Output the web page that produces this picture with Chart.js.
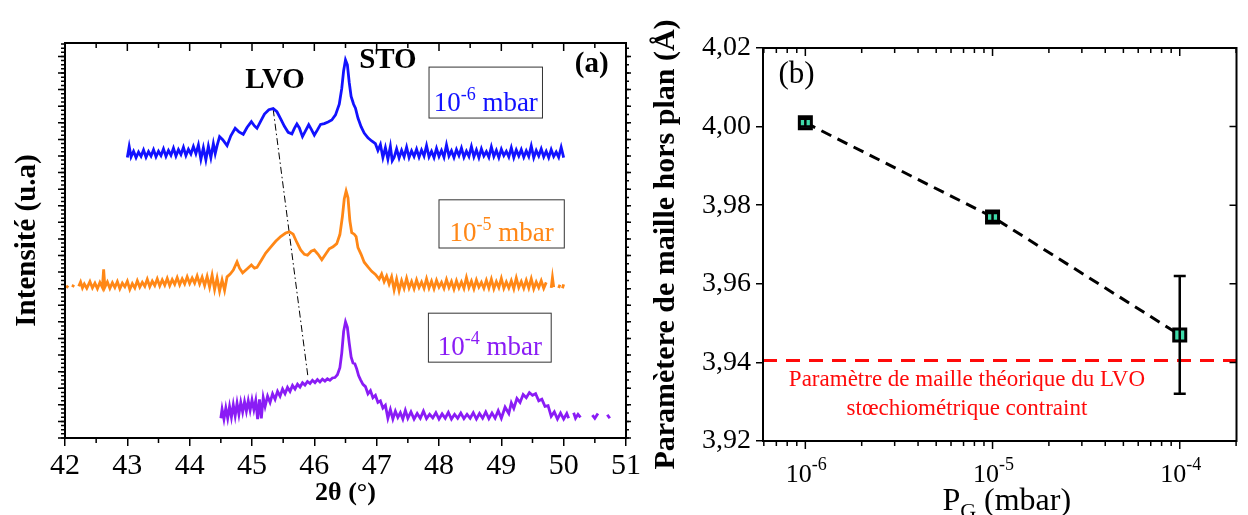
<!DOCTYPE html>
<html>
<head>
<meta charset="utf-8">
<script src="https://cdn.jsdelivr.net/npm/chart.js@4.4.1/dist/chart.umd.min.js"></script>
<style>
  html, body { margin: 0; padding: 0; background: #fff; }
  #wrap { position: relative; width: 1248px; height: 515px; overflow: hidden; }
  #left { position: absolute; left: 0; top: 0; }
  #right { position: absolute; left: 640px; top: 0; }
</style>
</head>
<body>
<div id="wrap">
  <canvas id="left" width="660" height="515"></canvas>
  <canvas id="right" width="608" height="515"></canvas>
</div>
<script>
// --- fonts & colours ---
const SERIF = "'Liberation Serif', 'Times New Roman', serif";
const BLUE = '#1212ff';
const ORANGE = '#ff8716';
const PURPLE = '#8a1cf5';
const GREEN = '#3fdcaa';
const RED = '#ff0a0a';

// --- panel (a): XRD scans, [2theta (deg), intensity (a.u., offset)] ---
const scan1e6 = [
  [43.00,71.0],[43.03,73.8],[43.06,71.2],[43.10,72.6],[43.14,71.0],[43.18,72.4],[43.22,71.3],[43.26,72.9],
  [43.30,71.1],[43.34,72.5],[43.38,71.4],[43.42,73.0],[43.46,71.2],[43.50,72.6],[43.54,71.5],[43.58,73.2],
  [43.62,71.3],[43.66,72.8],[43.70,71.6],[43.74,73.4],[43.78,71.4],[43.82,73.0],[43.86,71.8],[43.90,73.6],
  [43.94,71.5],[43.98,73.1],[44.02,71.9],[44.06,73.8],[44.10,72.0],[44.14,74.2],[44.18,70.6],[44.22,73.5],
  [44.26,70.4],[44.30,73.9],[44.34,71.0],[44.38,74.5],[44.41,72.0],[44.44,74.0],[44.48,76.3],[44.53,75.5],
  [44.60,74.0],[44.66,76.5],[44.73,78.4],[44.79,77.5],[44.86,76.9],[44.92,78.6],[44.99,80.1],[45.04,79.0],
  [45.08,78.4],[45.14,80.2],[45.20,82.0],[45.27,83.1],[45.34,83.4],[45.40,82.6],[45.46,80.8],[45.52,78.9],
  [45.58,77.4],[45.64,77.0],[45.68,78.4],[45.72,79.5],[45.76,78.5],[45.81,76.3],[45.86,77.8],[45.91,79.3],
  [45.95,78.2],[46.00,76.7],[46.05,78.0],[46.10,79.4],[46.16,79.6],[46.22,80.0],[46.28,80.5],[46.34,81.8],
  [46.40,84.5],[46.44,88.5],[46.47,93.0],[46.50,95.7],[46.53,94.5],[46.56,90.0],[46.59,86.5],[46.63,84.5],
  [46.66,83.5],[46.70,81.0],[46.75,78.8],[46.80,77.2],[46.86,76.0],[46.92,75.2],[46.98,74.5],[47.02,72.8],
  [47.06,74.3],[47.10,71.0],[47.14,73.5],[47.18,70.6],[47.22,73.8],[47.25,70.2],[47.28,71.0],[47.32,73.2],
  [47.36,70.9],[47.40,72.8],[47.44,71.2],[47.48,73.6],[47.52,71.0],[47.56,72.7],[47.60,71.3],[47.64,73.1],
  [47.68,71.1],[47.72,72.9],[47.76,71.4],[47.80,74.0],[47.84,71.2],[47.88,72.6],[47.92,71.0],[47.96,73.3],
  [48.00,71.3],[48.04,72.8],[48.08,71.1],[48.12,74.2],[48.16,71.4],[48.20,72.7],[48.24,71.0],[48.28,73.0],
  [48.32,71.5],[48.36,73.4],[48.40,71.1],[48.44,72.6],[48.48,71.3],[48.52,73.8],[48.56,71.2],[48.60,72.9],
  [48.64,71.0],[48.68,73.2],[48.72,71.4],[48.76,72.5],[48.80,71.1],[48.84,73.7],[48.88,71.3],[48.92,72.8],
  [48.96,71.0],[49.00,73.1],[49.04,71.5],[49.08,72.6],[49.12,71.2],[49.16,73.5],[49.20,71.0],[49.24,72.9],
  [49.28,71.4],[49.32,73.0],[49.36,71.1],[49.40,72.7],[49.44,71.3],[49.48,73.9],[49.52,71.0],[49.56,72.8],
  [49.60,71.4],[49.64,73.2],[49.68,71.2],[49.72,72.6],[49.76,71.0],[49.80,73.0],[49.84,71.3],[49.88,72.4],
  [49.92,71.1],[49.96,73.6],[50.00,71.0]
];

const scan1e5 = [
  [42.02,38.0],[42.05,38.6],[42.07,null],[42.12,38.2],[42.14,38.8],[42.17,null],[42.22,38.4],[42.25,39.5],
  [42.28,38.0],[42.31,39.0],[42.35,37.9],[42.40,39.6],[42.44,38.0],[42.48,39.2],[42.52,37.8],[42.56,39.4],
  [42.60,38.1],[42.62,42.7],[42.64,38.2],[42.68,39.5],[42.72,37.9],[42.76,39.3],[42.80,38.1],[42.84,39.6],
  [42.88,37.8],[42.92,39.2],[42.96,38.3],[43.00,39.7],[43.04,37.6],[43.08,39.1],[43.12,38.0],[43.16,39.8],
  [43.20,38.2],[43.24,39.4],[43.28,38.4],[43.32,40.2],[43.36,38.3],[43.40,39.7],[43.44,38.6],[43.48,40.3],
  [43.52,38.5],[43.56,40.0],[43.60,38.7],[43.64,40.4],[43.68,38.6],[43.72,40.1],[43.76,38.9],[43.80,40.6],
  [43.84,38.8],[43.88,40.3],[43.92,39.0],[43.96,40.8],[44.00,39.1],[44.04,40.5],[44.08,39.2],[44.12,41.0],
  [44.16,39.0],[44.20,40.7],[44.24,38.6],[44.28,40.9],[44.32,38.2],[44.36,41.2],[44.40,37.6],[44.44,40.5],
  [44.48,37.2],[44.52,40.0],[44.56,37.4],[44.60,40.8],[44.65,41.5],[44.70,42.5],[44.76,44.6],[44.80,43.0],
  [44.85,41.8],[44.92,42.8],[44.99,43.8],[45.04,43.0],[45.08,43.2],[45.15,45.0],[45.22,46.8],[45.30,48.3],
  [45.38,49.8],[45.46,51.0],[45.54,51.9],[45.60,52.2],[45.66,51.6],[45.72,49.5],[45.78,47.6],[45.84,46.5],
  [45.89,46.3],[45.95,47.3],[46.00,47.6],[46.06,46.5],[46.12,45.1],[46.18,46.5],[46.24,47.9],[46.30,48.4],
  [46.36,49.2],[46.41,51.5],[46.45,56.0],[46.48,60.5],[46.51,62.5],[46.54,60.8],[46.57,55.0],[46.60,52.0],
  [46.64,51.6],[46.67,51.0],[46.70,48.2],[46.75,46.5],[46.80,44.5],[46.86,43.3],[46.92,42.2],[46.98,41.4],
  [47.04,40.2],[47.08,41.5],[47.12,39.6],[47.16,41.0],[47.20,39.0],[47.24,40.8],[47.28,37.5],[47.32,40.2],
  [47.36,37.3],[47.40,39.8],[47.44,37.9],[47.48,40.4],[47.52,38.0],[47.56,39.6],[47.60,37.8],[47.64,40.0],
  [47.68,38.1],[47.72,39.5],[47.76,37.9],[47.80,40.3],[47.84,38.0],[47.88,39.7],[47.92,37.8],[47.96,39.9],
  [48.00,38.2],[48.04,39.4],[48.08,37.9],[48.12,40.1],[48.16,38.1],[48.20,39.6],[48.24,37.7],[48.28,39.8],
  [48.32,38.0],[48.36,39.5],[48.40,37.9],[48.44,40.6],[48.48,38.1],[48.52,39.7],[48.56,37.8],[48.60,40.0],
  [48.64,38.2],[48.68,39.4],[48.72,37.9],[48.76,39.9],[48.80,38.0],[48.84,40.2],[48.88,37.8],[48.92,39.6],
  [48.96,38.1],[49.00,40.4],[49.04,37.9],[49.08,39.5],[49.12,38.0],[49.16,39.8],[49.20,37.8],[49.24,40.5],
  [49.28,38.1],[49.32,39.6],[49.36,37.9],[49.40,39.9],[49.44,38.0],[49.48,40.3],[49.52,37.8],[49.56,39.5],
  [49.60,38.1],[49.64,39.8],[49.68,37.9],[49.72,39.4],[49.75,null],[49.80,38.0],[49.82,40.6],[49.84,38.2],
  [49.87,null],[49.92,38.0],[49.94,38.8],[49.96,null],[49.98,37.9],[50.00,38.9]
];

const scan1e4 = [
  [44.50,5.0],[44.52,7.3],[44.55,4.8],[44.58,7.6],[44.61,5.0],[44.64,8.0],[44.67,5.3],[44.70,8.4],
  [44.73,5.6],[44.76,8.8],[44.79,6.0],[44.82,9.0],[44.85,6.6],[44.88,9.2],[44.91,6.8],[44.94,9.4],
  [44.97,7.0],[45.00,9.6],[45.03,7.2],[45.06,9.5],[45.09,4.8],[45.12,9.8],[45.15,5.0],[45.18,10.2],
  [45.21,8.0],[45.25,10.6],[45.29,9.0],[45.33,11.2],[45.37,9.8],[45.41,11.8],[45.45,10.6],[45.49,12.4],
  [45.53,11.2],[45.57,12.8],[45.61,11.8],[45.65,13.3],[45.69,12.4],[45.73,13.6],[45.77,12.9],[45.81,14.0],
  [45.85,13.4],[45.89,14.3],[45.93,13.8],[45.97,14.6],[46.01,14.0],[46.05,14.8],[46.09,14.2],[46.13,14.9],
  [46.17,14.4],[46.21,15.0],[46.25,14.6],[46.29,15.2],[46.33,15.3],[46.37,16.0],[46.41,17.8],[46.44,21.5],
  [46.47,27.0],[46.50,29.4],[46.53,28.0],[46.56,24.0],[46.59,20.5],[46.62,19.0],[46.65,18.8],[46.68,17.5],
  [46.71,15.8],[46.74,14.8],[46.78,13.6],[46.82,13.0],[46.86,11.2],[46.90,12.0],[46.94,10.2],[46.98,10.8],
  [47.02,9.0],[47.06,9.4],[47.10,7.6],[47.14,8.3],[47.18,5.0],[47.22,7.2],[47.26,4.8],[47.30,6.8],
  [47.34,5.2],[47.38,6.4],[47.42,4.8],[47.46,7.0],[47.50,5.0],[47.55,6.6],[47.60,4.8],[47.65,6.2],
  [47.70,5.0],[47.75,6.8],[47.80,4.9],[47.85,6.0],[47.90,5.1],[47.95,6.4],[48.00,4.8],[48.05,6.1],
  [48.10,5.0],[48.15,6.5],[48.20,4.8],[48.25,6.0],[48.30,5.0],[48.35,6.3],[48.40,4.9],[48.45,6.0],
  [48.50,5.0],[48.55,6.4],[48.60,4.8],[48.65,6.2],[48.70,5.0],[48.75,6.6],[48.80,4.9],[48.85,6.3],
  [48.90,5.0],[48.95,6.9],[49.00,5.0],[49.06,7.8],[49.12,6.2],[49.16,8.9],[49.20,7.5],[49.25,10.0],
  [49.30,9.0],[49.35,11.0],[49.40,10.2],[49.45,11.5],[49.50,10.8],[49.55,11.2],[49.60,9.4],[49.65,9.8],
  [49.70,8.0],[49.75,8.2],[49.80,5.5],[49.85,6.6],[49.90,4.8],[49.95,6.3],[50.00,4.8],[50.05,6.2],
  [50.08,5.0],[50.11,null],[50.16,6.4],[50.19,5.0],[50.23,6.0],[50.27,5.2],[50.30,null],[50.46,5.8],
  [50.50,5.0],[50.55,6.2],[50.58,null],[50.70,5.9],[50.74,5.0]
];

// guide line following the LVO peak shift
const lvoShift = [[45.34, 83.2], [45.90, 15.2]];

// --- panel (b): out-of-plane lattice parameter vs growth pressure ---
const pressures = [1e-6, 1e-5, 1e-4];          // mbar
const latticeParam = [4.001, 3.977, 3.947];     // Å
const latticeErr = [0.001, 0.001, 0.015];       // Å
const theoryParam = 3.9405;                     // Å, strained stoichiometric LVO
const pressureTicks = [1e-6, 1e-5, 1e-4];
const pressureExps = ['-6', '-5', '-4'];

// --- helpers ---
function toXY(arr) { return arr.map(([x, y]) => ({ x, y })); }
function range(a, b, step) {
  const out = [];
  for (let v = a; v <= b + 1e-9; v += step) out.push(+v.toFixed(6));
  return out;
}

// draw a run of text pieces (for super/subscripts) centred on cx
function drawRuns(ctx, runs, cx, baseY, color) {
  let w = 0;
  runs.forEach(r => { ctx.font = r.font; r.w = ctx.measureText(r.t).width; w += r.w; });
  let x = cx - w / 2;
  ctx.fillStyle = color;
  ctx.textAlign = 'left';
  ctx.textBaseline = 'alphabetic';
  runs.forEach(r => { ctx.font = r.font; ctx.fillText(r.t, x, baseY + (r.dy || 0)); x += r.w; });
  return w;
}

// tick marks along one side of the chart area (dir 1 = outward, -1 = inward)
function marks(ctx, scale, values, side, len, dir) {
  const a = scale.chart.chartArea;
  ctx.beginPath();
  values.forEach(v => {
    const p = scale.getPixelForValue(v);
    if (side === 'bottom') { ctx.moveTo(p, a.bottom); ctx.lineTo(p, a.bottom + dir * len); }
    if (side === 'top') { ctx.moveTo(p, a.top); ctx.lineTo(p, a.top - dir * len); }
    if (side === 'left') { ctx.moveTo(a.left, p); ctx.lineTo(a.left - dir * len, p); }
    if (side === 'right') { ctx.moveTo(a.right, p); ctx.lineTo(a.right + dir * len, p); }
  });
  ctx.stroke();
}

function frame(ctx, a) {
  ctx.strokeStyle = '#000';
  ctx.lineWidth = 2;
  ctx.strokeRect(a.left, a.top, a.right - a.left, a.bottom - a.top);
}

// --- panel (a) decorations ---
const leftDecor = {
  id: 'leftDecor',
  afterDraw(chart) {
    const { ctx, chartArea: a } = chart;
    const xs = chart.scales.x, ys = chart.scales.y;
    ctx.save();
    frame(ctx, a);
    ctx.lineWidth = 1.5;
    marks(ctx, xs, range(42.5, 50.5, 1), 'bottom', 5, 1);
    marks(ctx, xs, range(42, 51, 1), 'top', 8, -1);
    marks(ctx, xs, range(42.5, 50.5, 1), 'top', 5, -1);
    marks(ctx, ys, range(0, 100, 4.2), 'left', 7, 1);
    marks(ctx, ys, range(0, 100, 1.05), 'left', 4, 1);
    marks(ctx, ys, range(0, 100, 4.2), 'right', 5, 1);
    marks(ctx, ys, range(0, 100, 2.1), 'right', 3, 1);

    // peak names and panel letter
    ctx.fillStyle = '#000';
    ctx.textAlign = 'center';
    ctx.textBaseline = 'middle';
    ctx.font = `bold 29px ${SERIF}`;
    ctx.fillText('LVO', xs.getPixelForValue(45.37), ys.getPixelForValue(90.4));
    ctx.fillText('STO', xs.getPixelForValue(47.18), ys.getPixelForValue(95.6));
    ctx.fillText('(a)', xs.getPixelForValue(50.45), ys.getPixelForValue(94.6));

    // pressure boxes
    const boxes = [
      { exp: '-6', color: BLUE, x0: 47.84, x1: 49.66, y0: 81.0, y1: 93.9 },
      { exp: '-5', color: ORANGE, x0: 48.00, x1: 50.01, y0: 48.1, y1: 60.3 },
      { exp: '-4', color: PURPLE, x0: 47.83, x1: 49.80, y0: 19.2, y1: 31.6 }
    ];
    boxes.forEach(b => {
      const l = xs.getPixelForValue(b.x0), r = xs.getPixelForValue(b.x1);
      const t = ys.getPixelForValue(b.y1), btm = ys.getPixelForValue(b.y0);
      ctx.strokeStyle = '#333';
      ctx.lineWidth = 1;
      ctx.strokeRect(l, t, r - l, btm - t);
      drawRuns(ctx, [
        { t: '10', font: `27px ${SERIF}` },
        { t: b.exp, font: `18px ${SERIF}`, dy: -11 },
        { t: ' mbar', font: `27px ${SERIF}` }
      ], (l + r) / 2, btm - 7, b.color);
    });
    ctx.restore();
  }
};

function scanDataset(arr, color) {
  return { data: toXY(arr), borderColor: color, borderWidth: 2.8, pointRadius: 0, tension: 0, spanGaps: false, fill: false };
}

new Chart(document.getElementById('left'), {
  type: 'line',
  data: {
    datasets: [
      scanDataset(scan1e6, BLUE),
      scanDataset(scan1e5, ORANGE),
      scanDataset(scan1e4, PURPLE),
      { data: toXY(lvoShift), borderColor: '#000', borderWidth: 1, borderDash: [7, 3, 1.5, 3], pointRadius: 0 }
    ]
  },
  options: {
    responsive: false,
    animation: false,
    events: [],
    layout: { padding: { top: 43, right: 34, left: 0, bottom: 0 } },
    plugins: { legend: { display: false }, tooltip: { enabled: false } },
    scales: {
      x: {
        type: 'linear', min: 42, max: 51,
        ticks: { stepSize: 1, autoSkip: false, maxRotation: 0, color: '#000', padding: 2, font: { family: SERIF, size: 30 } },
        grid: { drawOnChartArea: false, tickLength: 8, color: '#000', lineWidth: 1.5 },
        border: { color: '#000', width: 2 },
        title: { display: true, text: '2θ (°)', color: '#000', font: { family: SERIF, size: 26, weight: 'bold' }, padding: { top: 0, bottom: 6 } },
        afterFit: s => { s.height = 77; }
      },
      y: {
        min: 0, max: 100,
        ticks: { display: false },
        grid: { display: false },
        border: { color: '#000', width: 2 },
        title: { display: true, text: 'Intensité (u.a)', color: '#000', font: { family: SERIF, size: 29, weight: 'bold' }, padding: { top: 10, bottom: 0 } },
        afterFit: s => { s.width = 65; }
      }
    }
  },
  plugins: [leftDecor]
});

// --- panel (b) decorations ---
const rightDecor = {
  id: 'rightDecor',
  beforeDatasetsDraw(chart) {
    const { ctx, chartArea: a } = chart;
    const ys = chart.scales.y;
    const y = ys.getPixelForValue(theoryParam);
    ctx.save();
    ctx.strokeStyle = RED;
    ctx.lineWidth = 3;
    ctx.setLineDash([14, 9]);
    ctx.beginPath();
    ctx.moveTo(a.left, y);
    ctx.lineTo(a.right, y);
    ctx.stroke();
    ctx.restore();
  },
  afterDatasetsDraw(chart) {
    const { ctx } = chart;
    const xs = chart.scales.x, ys = chart.scales.y;
    ctx.save();
    ctx.strokeStyle = '#000';
    ctx.lineWidth = 2.5;
    pressures.forEach((p, i) => {
      const x = xs.getPixelForValue(p);
      const yt = ys.getPixelForValue(latticeParam[i] + latticeErr[i]);
      const yb = ys.getPixelForValue(latticeParam[i] - latticeErr[i]);
      ctx.beginPath();
      ctx.moveTo(x, yt); ctx.lineTo(x, yb);
      ctx.moveTo(x - 6, yt); ctx.lineTo(x + 6, yt);
      ctx.moveTo(x - 6, yb); ctx.lineTo(x + 6, yb);
      ctx.stroke();
    });
    ctx.restore();
  },
  afterDraw(chart) {
    const { ctx, chartArea: a } = chart;
    const xs = chart.scales.x, ys = chart.scales.y;
    ctx.save();
    frame(ctx, a);
    ctx.lineWidth = 1.5;
    const minor = [];
    [1e-7, 1e-6, 1e-5, 1e-4].forEach(d => { for (let m = 2; m <= 9; m++) minor.push(d * m); });
    const minorIn = minor.filter(v => v >= xs.min && v <= xs.max);
    marks(ctx, xs, pressureTicks, 'bottom', 8, 1);
    marks(ctx, xs, minorIn, 'bottom', 5, 1);
    marks(ctx, xs, pressureTicks, 'top', 8, -1);
    marks(ctx, xs, minorIn, 'top', 5, -1);
    marks(ctx, ys, range(3.92, 4.02, 0.02), 'right', 7, -1);

    // x tick labels with superscript exponents
    pressureTicks.forEach((p, i) => {
      drawRuns(ctx, [
        { t: '10', font: `26px ${SERIF}` },
        { t: pressureExps[i], font: `18px ${SERIF}`, dy: -12 }
      ], xs.getPixelForValue(p) + 1, a.bottom + 41, '#000');
    });
    // x title P_G (mbar)
    drawRuns(ctx, [
      { t: 'P', font: `32px ${SERIF}` },
      { t: 'G', font: `22px ${SERIF}`, dy: 8 },
      { t: ' (mbar)', font: `32px ${SERIF}` }
    ], (a.left + a.right) / 2 + 7, a.bottom + 69, '#000');

    // panel letter
    ctx.fillStyle = '#000';
    ctx.textAlign = 'center';
    ctx.textBaseline = 'middle';
    ctx.font = `31px ${SERIF}`;
    ctx.fillText('(b)', xs.getPixelForValue(8.97e-7), ys.getPixelForValue(4.0131));

    // theoretical value caption
    ctx.fillStyle = RED;
    ctx.font = `23px ${SERIF}`;
    const cx = xs.getPixelForValue(7.3e-6);
    ctx.fillText('Paramètre de maille théorique du LVO', cx, ys.getPixelForValue(3.9355));
    ctx.fillText('stœchiométrique contraint', cx, ys.getPixelForValue(3.9281));
    ctx.restore();
  }
};

new Chart(document.getElementById('right'), {
  type: 'line',
  data: {
    datasets: [{
      data: pressures.map((p, i) => ({ x: p, y: latticeParam[i] })),
      borderColor: '#000',
      borderWidth: 3,
      borderDash: [11, 7],
      tension: 0,
      pointStyle: 'rect',
      pointRadius: 8.5,
      pointBackgroundColor: GREEN,
      pointBorderColor: '#000',
      pointBorderWidth: 3
    }]
  },
  options: {
    responsive: false,
    animation: false,
    events: [],
    layout: { padding: { top: 48, right: 3, left: 0, bottom: 0 } },
    plugins: { legend: { display: false }, tooltip: { enabled: false } },
    scales: {
      x: {
        type: 'logarithmic', min: 5.94e-7, max: 2.01e-4,
        ticks: { display: false },
        grid: { display: false },
        border: { color: '#000', width: 2 },
        afterFit: s => { s.height = 74; }
      },
      y: {
        min: 3.92, max: 4.02,
        ticks: {
          stepSize: 0.02, color: '#000', padding: 5,
          font: { family: SERIF, size: 28 },
          callback: v => v.toFixed(2).replace('.', ',')
        },
        grid: { drawOnChartArea: false, tickLength: 7, color: '#000', lineWidth: 1.5 },
        border: { color: '#000', width: 2 },
        title: { display: true, text: 'Paramètere de maille hors plan (Å)', color: '#000', font: { family: SERIF, size: 30, weight: 'bold' }, padding: { top: 8, bottom: 0 } },
        afterFit: s => { s.width = 123; }
      }
    }
  },
  plugins: [rightDecor]
});
</script>
</body>
</html>
